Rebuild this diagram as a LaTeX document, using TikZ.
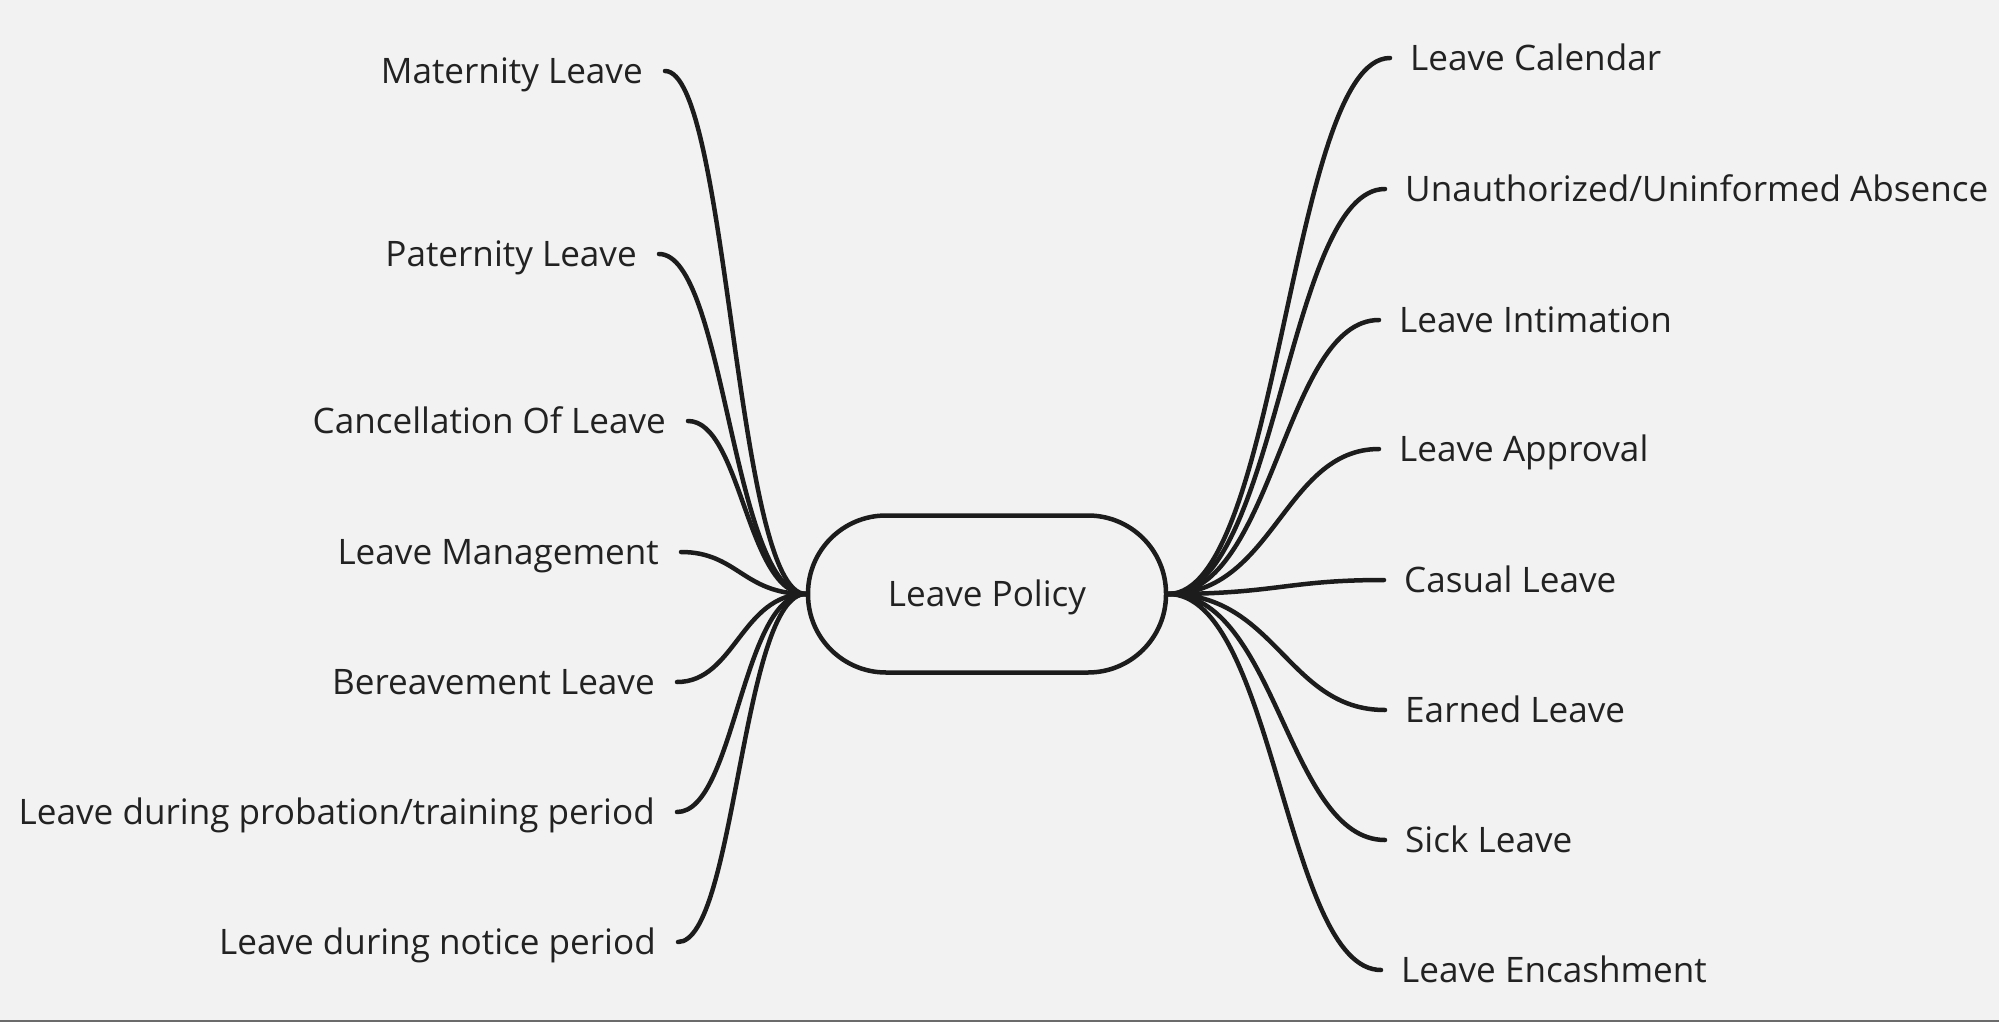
\documentclass[tikz,border=0pt]{standalone}
\usepackage{fontspec}
\setmainfont{Open Sans}
\usetikzlibrary{calc}
\definecolor{bg}{HTML}{F2F2F2}
\definecolor{ink}{HTML}{1C1C1C}
\definecolor{txt}{HTML}{222222}
\definecolor{edge}{HTML}{6B6B6B}
\tikzset{
  lbl/.style={font=\fontsize{35.1}{40}\selectfont, text=txt, inner ysep=0pt,
    text height=25pt, text depth=0pt},
  lleft/.style={lbl, anchor=east, inner xsep=22pt},
  lright/.style={lbl, anchor=west, inner xsep=20pt},
  hub/.style={draw=ink, line width=4.5pt, rounded corners=78pt,
    minimum width=358pt, minimum height=157pt, inner sep=0pt,
    font=\fontsize{35.1}{40}\selectfont, text=txt, text height=25pt, text depth=0pt},
  conn/.style={draw=ink, line width=4.5pt, line cap=round}
}
\newcommand\mmconn[2]{\path[conn] let \p1=(#1), \p2=(#2) in
  (\p1) .. controls ({\x1+0.5*(\x2-\x1)},\y1) and ({\x2-0.45*(\x2-\x1)},\y2) .. (\p2);}
\begin{document}
\begin{tikzpicture}[x=1pt,y=-1pt]
\fill[bg] (0,0) rectangle (1999,1022);
\useasboundingbox (0,0) rectangle (1999,1022);
\fill[edge] (0,1020) rectangle (1999,1022);

\node[hub] (c) at (987,594) {Leave Policy};

\node[lleft] (l1) at (665,71) {Maternity Leave};
\node[lleft] (l2) at (659,254) {Paternity Leave};
\node[lleft] (l3) at (688,421) {Cancellation Of Leave};
\node[lleft] (l4) at (681,552) {Leave Management};
\node[lleft] (l5) at (677,682) {Bereavement Leave};
\node[lleft] (l6) at (677,812) {Leave during probation/training period};
\node[lleft] (l7) at (678,942) {Leave during notice period};

\node[lright] (r1) at (1390,58) {Leave Calendar};
\node[lright] (r2) at (1385,189) {Unauthorized/Uninformed Absence};
\node[lright] (r3) at (1379,320) {Leave Intimation};
\node[lright] (r4) at (1379,449) {Leave Approval};
\node[lright] (r5) at (1384,580) {Casual Leave};
\node[lright] (r6) at (1385,710) {Earned Leave};
\node[lright] (r7) at (1385,840) {Sick Leave};
\node[lright] (r8) at (1381,970) {Leave Encashment};

\foreach \nm in {l1,l2,l3,l4,l5,l6,l7}{\mmconn{c.west}{\nm.east}}
\foreach \nm in {r1,r2,r3,r4,r5,r6,r7,r8}{\mmconn{c.east}{\nm.west}}
\end{tikzpicture}
\end{document}
